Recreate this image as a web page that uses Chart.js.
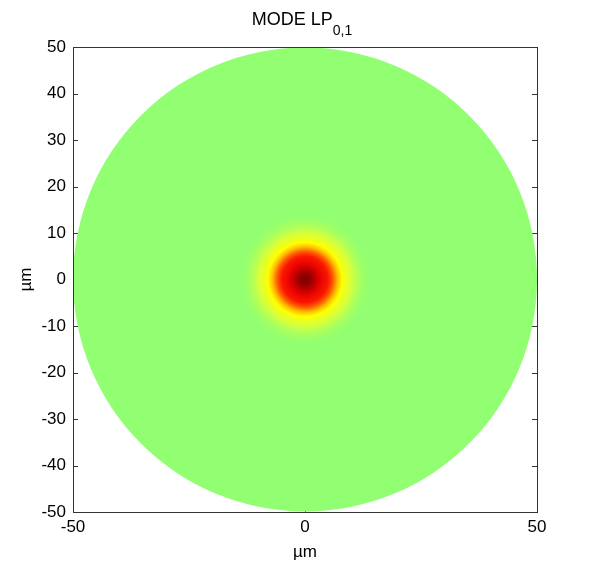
<!DOCTYPE html>
<html>
<head>
<meta charset="utf-8">
<script src="https://cdn.jsdelivr.net/npm/chart.js@4"></script>
<style>
  html, body { margin: 0; padding: 0; background: #fff; }
  #wrap { width: 596px; height: 570px; }
</style>
</head>
<body>
<div id="wrap"><canvas id="mode"></canvas></div>
<script>
const xTicks = [-50, 0, 50];
const yTicks = [-50, -40, -30, -20, -10, 0, 10, 20, 30, 40, 50];
const fibreRadius = 50; // µm
// radial profile of the LP01 field
const radius = [0, 1, 2, 3, 4, 5, 6, 7, 8, 9, 10, 11, 12, 13, 14];
const intensity = [1.0, 0.96, 0.88, 0.78, 0.67, 0.55, 0.44, 0.33, 0.24, 0.16, 0.1, 0.06, 0.03, 0.012, 0];

// colormap: level -> rgb
const levels = [0, 0.1, 0.24, 0.38, 0.5, 0.75, 1];
const colours = [
  [145, 255, 113],
  [215, 255, 60],
  [255, 255, 0],
  [255, 150, 0],
  [255, 30, 0],
  [235, 0, 0],
  [128, 0, 0]
];

function colourFor(v) {
  for (let i = 1; i < levels.length; i++) {
    if (v <= levels[i]) {
      const t = (v - levels[i - 1]) / (levels[i] - levels[i - 1]);
      const a = colours[i - 1], b = colours[i];
      const c = a.map((ch, k) => Math.round(ch + (b[k] - ch) * t));
      return `rgb(${c[0]},${c[1]},${c[2]})`;
    }
  }
  const c = colours[colours.length - 1];
  return `rgb(${c[0]},${c[1]},${c[2]})`;
}

const FAMILY = '"Liberation Sans", Arial, sans-serif';
const AXIS = "#333";

const modePlugin = {
  id: "modePlugin",
  beforeDatasetsDraw(chart) {
    const ctx = chart.ctx;
    const xs = chart.scales.x, ys = chart.scales.y;
    const area = chart.chartArea;

    // inward ticks (drawn under the image, like matlab)
    ctx.save();
    ctx.strokeStyle = AXIS;
    ctx.lineWidth = 1;
    ctx.beginPath();
    yTicks.forEach(v => {
      const y = Math.round(ys.getPixelForValue(v)) + 0.5;
      ctx.moveTo(area.left, y); ctx.lineTo(area.left + 5, y);
      ctx.moveTo(area.right, y); ctx.lineTo(area.right - 5, y);
    });
    xTicks.forEach(v => {
      const x = Math.round(xs.getPixelForValue(v)) + 0.5;
      ctx.moveTo(x, area.bottom); ctx.lineTo(x, area.bottom - 5);
      ctx.moveTo(x, area.top); ctx.lineTo(x, area.top + 5);
    });
    ctx.stroke();

    // fibre cross-section
    const cx = xs.getPixelForValue(0), cy = ys.getPixelForValue(0);
    const R = xs.getPixelForValue(fibreRadius) - cx;
    ctx.fillStyle = colourFor(0);
    ctx.beginPath();
    ctx.arc(cx, cy, R, 0, Math.PI * 2);
    ctx.fill();

    // mode field
    const rMax = xs.getPixelForValue(radius[radius.length - 1]) - cx;
    const grad = ctx.createRadialGradient(cx, cy, 0, cx, cy, rMax);
    radius.forEach((r, i) => {
      const px = xs.getPixelForValue(r) - cx;
      grad.addColorStop(px / rMax, colourFor(intensity[i]));
    });
    ctx.fillStyle = grad;
    ctx.beginPath();
    ctx.arc(cx, cy, rMax, 0, Math.PI * 2);
    ctx.fill();
    ctx.restore();
  },
  afterDraw(chart) {
    const ctx = chart.ctx;
    const area = chart.chartArea;
    ctx.save();
    ctx.strokeStyle = AXIS;
    ctx.lineWidth = 1;
    ctx.strokeRect(Math.round(area.left) + 0.5, Math.round(area.top) + 0.5,
      Math.round(area.right - area.left), Math.round(area.bottom - area.top));

    ctx.fillStyle = "#000";
    ctx.textBaseline = "middle";

    // title with subscript
    const mid = (area.left + area.right) / 2;
    const main = "MODE LP", sub = "0,1";
    ctx.font = "18px " + FAMILY;
    const w1 = ctx.measureText(main).width;
    ctx.font = "14px " + FAMILY;
    const w2 = ctx.measureText(sub).width;
    const x0 = mid - (w1 + w2) / 2 - 3;
    ctx.textAlign = "left";
    ctx.font = "18px " + FAMILY;
    ctx.fillText(main, x0, 20);
    ctx.font = "14px " + FAMILY;
    ctx.fillText(sub, x0 + w1, 31);

    // axis labels
    ctx.font = "17px " + FAMILY;
    ctx.textAlign = "center";
    ctx.fillText("µm", mid, 552);
    ctx.translate(26, (area.top + area.bottom) / 2);
    ctx.rotate(-Math.PI / 2);
    ctx.fillText("µm", 0, 0);
    ctx.restore();
  }
};

new Chart(document.getElementById("mode"), {
  type: "scatter",
  data: { datasets: [] },
  plugins: [modePlugin],
  options: {
    responsive: true,
    maintainAspectRatio: false,
    animation: false,
    layout: { padding: { top: 47, right: 59, left: 0, bottom: 0 } },
    plugins: { legend: { display: false }, tooltip: { enabled: false }, title: { display: false } },
    scales: {
      x: {
        type: "linear",
        min: -50,
        max: 50,
        grid: { display: false, drawTicks: false },
        border: { display: false },
        afterBuildTicks: s => { s.ticks = xTicks.map(v => ({ value: v })); },
        afterFit: s => { s.height = 58; },
        ticks: { color: "#000", font: { family: FAMILY, size: 17 }, padding: 5, maxRotation: 0 }
      },
      y: {
        type: "linear",
        min: -50,
        max: 50,
        grid: { display: false, drawTicks: false },
        border: { display: false },
        afterBuildTicks: s => { s.ticks = yTicks.map(v => ({ value: v })); },
        afterFit: s => { s.width = 73; },
        ticks: { color: "#000", font: { family: FAMILY, size: 17 }, padding: 7 }
      }
    }
  }
});
</script>
</body>
</html>
